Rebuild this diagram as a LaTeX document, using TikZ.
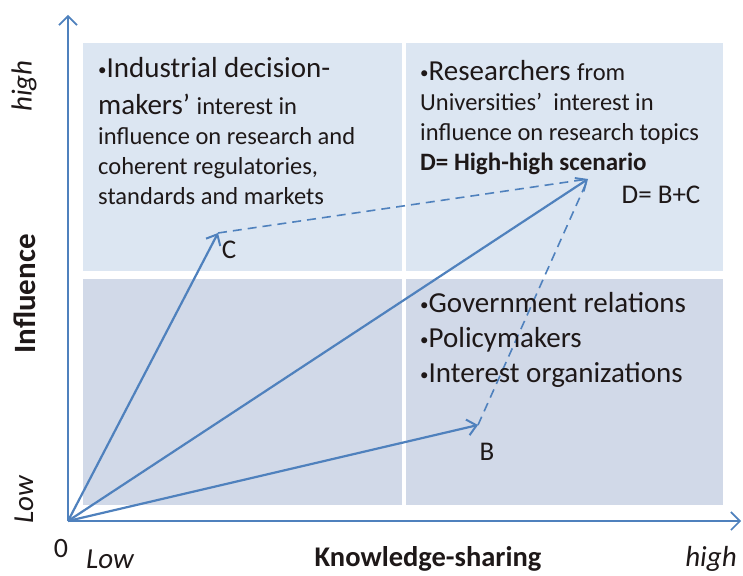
\documentclass[tikz,border=0pt]{standalone}
\usepackage{fontspec}
\setmainfont{Carlito}
\usetikzlibrary{arrows.meta}
\definecolor{axisblue}{RGB}{79,129,189}
\definecolor{tophigh}{RGB}{220,230,242}
\definecolor{botlow}{RGB}{209,217,232}
\definecolor{txt}{RGB}{30,24,24}
\newcommand{\bigsz}{\fontsize{29}{30}\selectfont}
\newcommand{\smallsz}{\fontsize{24.5}{30}\selectfont}
\newcommand{\bul}{{\fontsize{17}{30}\selectfont\raisebox{2pt}{•}}}
\tikzset{
  vec/.style={axisblue, line width=2.2pt, -{Straight Barb[length=9pt,width=16pt,line width=2pt]}},
  axis/.style={axisblue, line width=1.6pt, -{Straight Barb[length=9pt,width=18pt,line width=1.6pt]}},
  sumline/.style={axisblue, line width=1.6pt, dash pattern=on 9pt off 6pt},
  quadtext/.style={txt, inner sep=0pt, align=left, anchor=north west, font=\smallsz},
  axlabel/.style={txt, inner sep=0pt}
}
\begin{document}
\begin{tikzpicture}[x=1pt, y=-1pt]
    \useasboundingbox (0,0) rectangle (743,575);
    \fill[tophigh] (83,43) rectangle (402,271);
    \fill[tophigh] (406,43) rectangle (723,271);
    \fill[botlow] (83,279) rectangle (402,505);
    \fill[botlow] (406,279) rectangle (723,505);
    \coordinate (O) at (68,521);
    \coordinate (ytip) at (68,15);
    \coordinate (xtip) at (741,521);
    \coordinate (C) at (218,233);
    \coordinate (B) at (478,425);
    \coordinate (D) at (588,179);
    \draw[axis] (O)--(ytip);
    \draw[axis] (O)--(xtip);
    \draw[sumline] (C)--(D);
    \draw[sumline] (B)--(D);
    \draw[vec] (O)--(C);
    \draw[vec] (O)--(B);
    \draw[vec] (O)--(D);
    \node[quadtext] (industry) at (98,57) {\bul\bigsz Industrial decision-\\[7pt] \bigsz makers’ \smallsz interest in\\ influence on research and\\ coherent regulatories,\\ standards and markets};
    \node[quadtext] (research) at (420,60) {\bul\bigsz Researchers \smallsz from\\ Universities’\ \ interest in\\ influence on research topics\\ \fontsize{25}{30}\selectfont\bfseries D= High-high scenario};
    \node[quadtext, font=\bigsz] (government) at (420,292) {\bul Government relations\\[5pt] \bul Policymakers\\[5pt] \bul Interest organizations};
    \node[axlabel, font=\fontsize{27}{30}\selectfont] (Clabel) at (229,250) {C};
    \node[axlabel, font=\fontsize{27}{30}\selectfont] (Blabel) at (487,452) {B};
    \node[axlabel, font=\fontsize{27}{30}\selectfont] (Dlabel) at (661,195) {D= B+C};
    \node[axlabel, font=\fontsize{28}{30}\selectfont] (zero) at (61,549) {0};
    \node[axlabel, font=\fontsize{29}{30}\selectfont\itshape] (xlow) at (110,559) {Low};
    \node[axlabel, font=\fontsize{28.5}{30}\selectfont\bfseries] (xname) at (428,559) {Knowledge-sharing};
    \node[axlabel, font=\fontsize{29}{30}\selectfont\itshape] (xhigh) at (711,559) {high};
    \node[axlabel, rotate=90, font=\fontsize{29}{30}\selectfont\itshape] (yhigh) at (24,86) {high};
    \node[axlabel, rotate=90, font=\fontsize{31}{30}\selectfont\bfseries] (yname) at (25,294) {Influence};
    \node[axlabel, rotate=90, font=\fontsize{29}{30}\selectfont\itshape] (ylow) at (24,500) {Low};
\end{tikzpicture}
\end{document}
